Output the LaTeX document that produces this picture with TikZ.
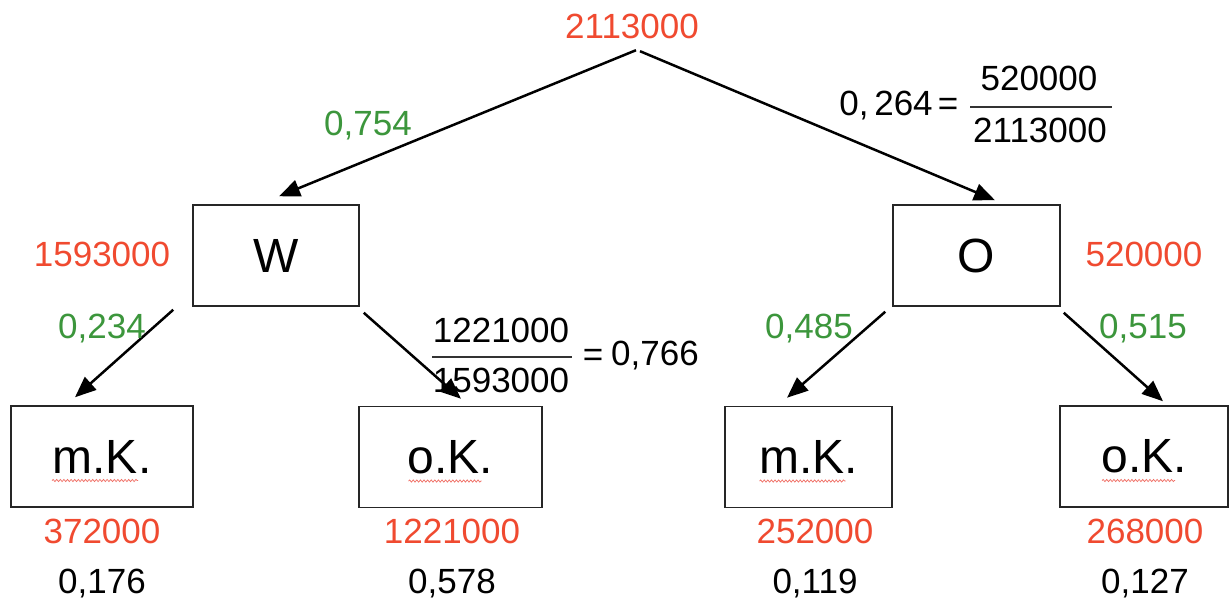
\documentclass[tikz,border=0pt]{standalone}
\usepackage{fontspec}
\setmainfont{Liberation Sans}
\usetikzlibrary{arrows.meta,calc,decorations.pathmorphing}
\definecolor{numred}{RGB}{240,74,48}
\definecolor{numgreen}{RGB}{60,150,60}
\definecolor{squig}{RGB}{240,110,100}
\begin{document}
\begin{tikzpicture}[x=1pt,y=-1pt,
  num/.style={inner sep=0pt, font=\fontsize{35}{40}\selectfont, text height=25pt, text depth=0pt},
  rednum/.style={num, text=numred},
  grnnum/.style={num, text=numgreen},
  blknum/.style={num, text=black},
  boxnode/.style={draw=black!85, line width=1.5pt, inner sep=0pt, font=\fontsize{48}{54}\selectfont, minimum height=101pt},
  arr/.style={draw=black, line width=2.5pt, -{Triangle[length=21pt,width=17pt]}},
  fracbar/.style={draw=black!80, line width=1.5pt},
  wavy/.style={draw=squig, line width=0.7pt, decorate, decoration={snake, amplitude=1.1pt, segment length=3.6pt}}
]
\useasboundingbox (0,0) rectangle (1229,600);
\fill[white] (0,0) rectangle (1229,600);

% root
\node[rednum] (root) at (632,26) {2113000};

% level 1 boxes
\node[boxnode, minimum width=166pt] (W) at (276,255.5) {W};
\node[boxnode, minimum width=167pt] (O) at (976.5,255.5) {O};

% level 2 boxes
\node[boxnode, minimum width=182pt] (B1) at (102,456.5) {m.K.};
\node[boxnode, minimum width=183pt] (B2) at (450.5,457) {o.K.};
\node[boxnode, minimum width=167pt] (B3) at (808.5,457) {m.K.};
\node[boxnode, minimum width=168pt] (B4) at (1144,456.5) {o.K.};

% spell-check squiggles
\draw[wavy] ($(B1.center)+(-50,24)$) -- ($(B1.center)+(36,24)$);
\draw[wavy] ($(B2.center)+(-42,24)$) -- ($(B2.center)+(31,24)$);
\draw[wavy] ($(B3.center)+(-49,24)$) -- ($(B3.center)+(37,24)$);
\draw[wavy] ($(B4.center)+(-42,24)$) -- ($(B4.center)+(31,24)$);

% arrows
\draw[arr] ($(root.south)+(4,11.5)$) -- ($(W.north)+(3,-8)$);
\draw[arr] ($(root.south)+(8,12.5)$) -- ($(O.north)+(18.5,-4)$);
\draw[arr] ($(W.south west)+(-19,3)$) -- ($(B1.north)+(-27,-8)$);
\draw[arr] ($(W.south east)+(4,6)$) -- ($(B2.north)+(10.5,-7)$);
\draw[arr] ($(O.south west)+(-7,5)$) -- ($(B3.north)+(-21.5,-8)$);
\draw[arr] ($(O.south east)+(3,6)$) -- ($(B4.north)+(19,-4)$);

% branch probabilities
\node[grnnum] (pW) at (368,123) {0,754};
\node[blknum] (pO) at (886,103) {0,\,264};
\node[blknum] (eqO) at (948,103) {=};
\node[blknum] (nO) at (1039,78) {520000};
\node[blknum] (dO) at (1040,130) {2113000};
\draw[fracbar] (970,107) -- (1112,107);

\node[rednum] (cW) at (102,254) {1593000};
\node[rednum] (cO) at (1144,254) {520000};

\node[grnnum] (p1) at (102,326) {0,234};
\node[blknum] (n2) at (501,330) {1221000};
\node[blknum] (d2) at (501,380) {1593000};
\draw[fracbar] (432,357) -- (572,357);
\node[blknum] (eq2) at (593,354) {=};
\node[blknum] (p2) at (655,353) {0,766};
\node[grnnum] (p3) at (809,326) {0,485};
\node[grnnum] (p4) at (1143,326) {0,515};

% leaf counts and probabilities
\node[rednum] (c1) at (102,531) {372000};
\node[rednum] (c2) at (452,531) {1221000};
\node[rednum] (c3) at (815,531) {252000};
\node[rednum] (c4) at (1145,531) {268000};
\node[blknum] (q1) at (102,581) {0,176};
\node[blknum] (q2) at (452,581) {0,578};
\node[blknum] (q3) at (815,581) {0,119};
\node[blknum] (q4) at (1145,581) {0,127};
\end{tikzpicture}
\end{document}
